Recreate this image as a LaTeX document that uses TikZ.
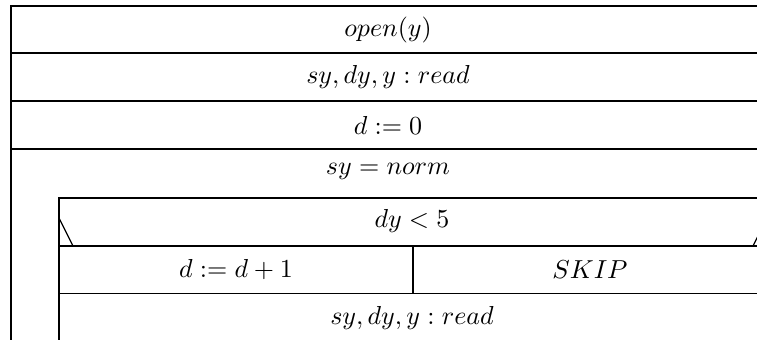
\documentclass[tikz,border=0pt]{standalone}
\begin{document}
\begin{tikzpicture}[x=0.3846pt,y=-0.3846pt,
  nsline/.style={line width=0.65pt, draw=black},
  lbl/.style={inner sep=0pt, font=\normalsize}]
\useasboundingbox (0,0) rectangle (757,340);
\clip (0,0) rectangle (757,340);
% outer sequence
\draw[nsline] (766,6) -- (11,6) -- (11,350);
\draw[nsline] (11,53) -- (766,53);
\draw[nsline] (11,101) -- (766,101);
\draw[nsline] (11,149) -- (766,149);
% loop body
\draw[nsline] (766,198) -- (59,198) -- (59,350);
\draw[nsline] (59,246) -- (766,246);
\draw[nsline] (59,293.6) -- (766,293.6);
\draw[nsline] (413,246) -- (413,293.6);
% condition diagonals
\draw[line width=0.5pt] (59,218) -- (73,246);
\draw[line width=0.5pt] (767,218) -- (753,246);
% texts
\node[lbl] (t1) at (388,30) {$open(y)$};
\node[lbl] (t2) at (388,77) {$sy,dy,y:read$};
\node[lbl] (t3) at (388,125) {$d:=0$};
\node[lbl] (t4) at (388,171) {$sy=norm$};
\node[lbl] (t5) at (412,221) {$dy<5$};
\node[lbl] (t6) at (236,270) {$d:=d+1$};
\node[lbl] (t7) at (590,270) {$SKIP$};
\node[lbl] (t8) at (412,318) {$sy,dy,y:read$};
\end{tikzpicture}
\end{document}
